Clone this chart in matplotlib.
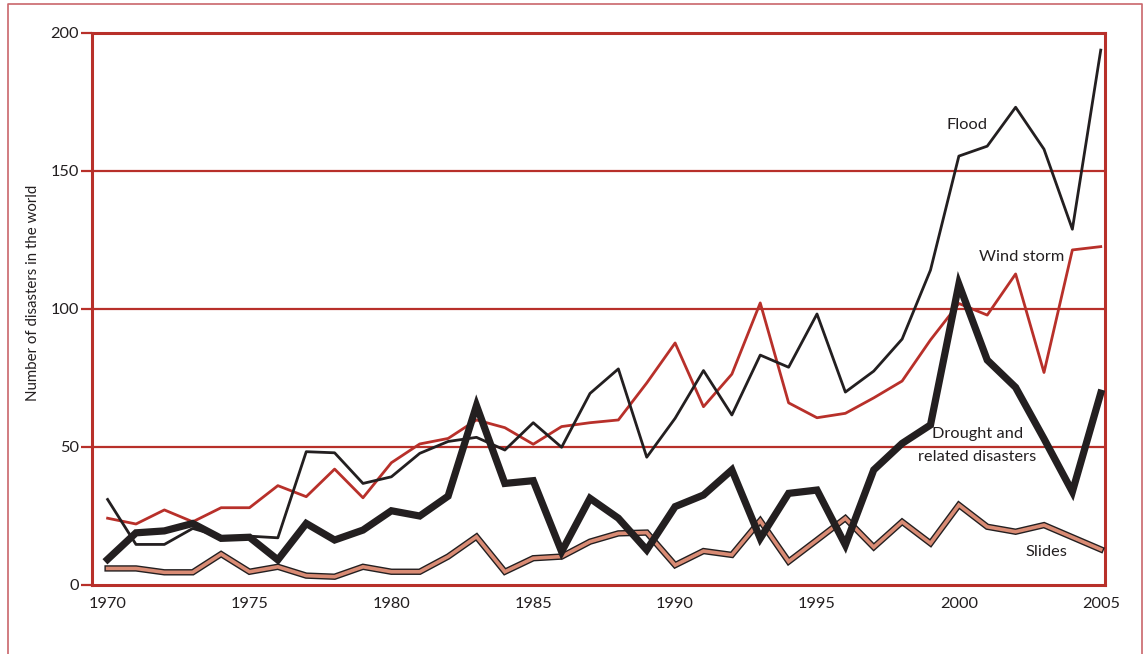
import matplotlib
matplotlib.use("Agg")
import matplotlib.pyplot as plt
from matplotlib.lines import Line2D

years = list(range(1970, 2006))
flood = [31, 14.7, 14.7, 20.5, 17.5, 17.7, 17.1, 48.3, 47.9, 36.8, 39.2, 47.7, 52.0, 53.5,
         48.9, 58.8, 49.9, 69.4, 78.3, 46.3, 60.4, 77.7, 61.6, 83.3, 78.9, 98.2, 69.9,
         77.5, 89.1, 114.1, 155.4, 159.0, 173.1, 157.9, 128.9, 193.8]
wind = [24.2, 22.1, 27.2, 22.9, 28.0, 28.0, 36.0, 32.0, 42.0, 31.6, 44.3, 51.1, 53.1, 59.8,
        57.0, 51.0, 57.4, 58.8, 59.8, 73.2, 87.7, 64.6, 76.4, 102.2, 66.0, 60.6, 62.2,
        67.8, 73.9, 88.8, 102.0, 97.8, 112.7, 77.0, 121.4, 122.6]
drought = [9.3, 18.9, 19.6, 22.3, 16.9, 17.3, 9.1, 22.3, 16.3, 19.9, 26.9, 25.0, 32.2, 65.0,
           36.8, 37.8, 12.1, 31.4, 24.2, 12.7, 28.4, 32.6, 41.7, 16.9, 33.2, 34.4, 14.5,
           41.7, 51.3, 58.0, 109.0, 81.5, 71.6, 53.0, 33.8, 69.5]
slides = [6.0, 6.0, 4.6, 4.6, 11.2, 4.8, 6.6, 3.4, 3.0, 6.6, 4.8, 4.8, 10.3, 17.5, 4.8, 9.7,
          10.3, 15.7, 18.7, 19.0, 7.2, 12.3, 10.9, 23.3, 8.5, 16.3, 24.2, 13.7, 22.9, 15.1,
          29.0, 21.1, 19.3, 21.7, 17.3, 12.9]

xticks = [1970, 1975, 1980, 1985, 1990, 1995, 2000, 2005]
yticks = [0, 50, 100, 150, 200]

RED = "#b8302a"
BLACK = "#231f20"
SALMON = "#d98b74"
FRAME = "#c9666b"

plt.rcParams['font.family'] = ['Lato', 'DejaVu Sans']

W, H = 1145, 654
fig = plt.figure(figsize=(W / 100, H / 100), dpi=100)
ax = fig.add_axes([92 / W, 1 - 585 / H, (1105 - 92) / W, (585 - 33) / H])

ax.set_xlim(1969.45, 2005.15)
ax.set_ylim(0, 200)

for v in [50, 100, 150]:
    ax.axhline(v, color=RED, lw=1.6, zorder=1)

ax.plot(years, slides, color=BLACK, lw=4.6, zorder=3, solid_joinstyle='miter')
ax.plot(years, slides, color=SALMON, lw=2.6, zorder=3.1, solid_joinstyle='miter')
ax.plot(years, wind, color=RED, lw=2.0, zorder=4)
ax.plot(years, flood, color=BLACK, lw=2.0, zorder=5)
ax.plot(years, drought, color=BLACK, lw=5.2, zorder=6, solid_joinstyle='miter')

for s in ax.spines.values():
    s.set_color(RED)
    s.set_linewidth(2.2)

FS = 11.8
ax.set_xticks(xticks)
ax.set_xticklabels([str(t) for t in xticks])
ax.set_yticks(yticks)
ax.set_yticklabels([str(t) for t in yticks])
ax.tick_params(axis='x', length=0, pad=9, labelsize=FS, labelcolor=BLACK)
ax.tick_params(axis='y', length=8, width=1.6, color=RED, pad=1.5, labelsize=FS,
               labelcolor=BLACK)

ax.text(2000.3, 166.7, "Flood", fontsize=FS, color=BLACK, ha='center', va='center')
ax.text(2002.2, 119, "Wind storm", fontsize=FS, color=BLACK, ha='center', va='center')
ax.text(2000.65, 54.7, "Drought and", fontsize=FS, color=BLACK, ha='center', va='center')
ax.text(2000.65, 46.3, "related disasters", fontsize=FS, color=BLACK, ha='center',
        va='center')
ax.text(2003.1, 12.1, "Slides", fontsize=FS, color=BLACK, ha='center', va='center')

fig.text(33 / W, 1 - 293 / H, "Number of disasters in the world", rotation=90,
         fontsize=10.8, color=BLACK, ha='center', va='center')

# outer frame (left, top, right)
fig.add_artist(Line2D([8 / W, 8 / W, 1142 / W, 1142 / W],
                      [0, 1 - 4 / H, 1 - 4 / H, 0], transform=fig.transFigure,
                      color=FRAME, lw=1.2))

fig.savefig("out.png", dpi=100)
